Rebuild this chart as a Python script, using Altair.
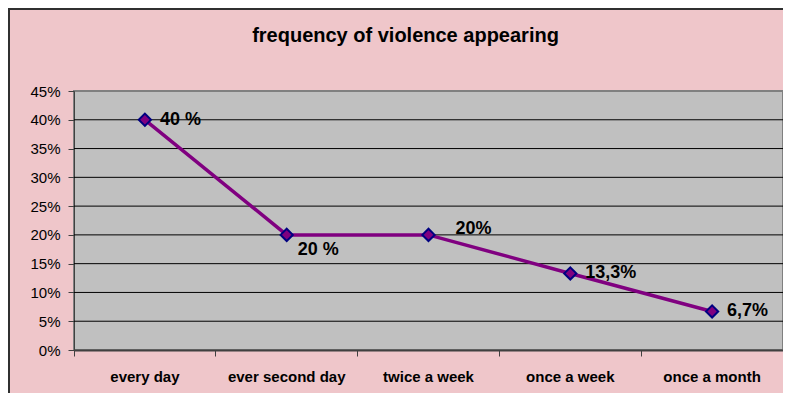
import altair as alt
import pandas as pd

categories = ["every day", "ever second day", "twice a week", "once a week", "once a month"]
values = [0.40, 0.20, 0.20, 0.133, 0.067]
labels = ["40 %", "20 %", "20%", "13,3%", "6,7%"]
y_ticks = [0.0, 0.05, 0.10, 0.15, 0.20, 0.25, 0.30, 0.35, 0.40, 0.45]
grid_values = [0.05, 0.10, 0.15, 0.20, 0.25, 0.30, 0.35, 0.40]
title_text = "frequency of violence appearing"

df = pd.DataFrame({"cat": categories, "val": values, "lab": labels})
grid_df = pd.DataFrame({"val": grid_values})

FONT = "Liberation Sans"

x_enc = alt.X(
    "cat:N",
    sort=categories,
    scale=alt.Scale(type="band", paddingInner=0, paddingOuter=0),
    axis=alt.Axis(
        title=None, labelAngle=0, bandPosition=0,
        tickSize=6, tickColor="#404040", tickWidth=1,
        domainColor="#404040", domainWidth=2,
        labelFont=FONT, labelFontWeight="bold", labelFontSize=15,
        labelColor="black", labelPadding=13, grid=False,
    ),
)
y_scale = alt.Scale(domain=[0, 0.45])
y_enc = alt.Y(
    "val:Q",
    scale=y_scale,
    axis=alt.Axis(
        values=y_ticks, format=".0%", title=None, grid=False, labelOverlap=False,
        tickSize=6, tickColor="#404040", domainColor="#404040", domainWidth=1,
        labelFont=FONT, labelFontSize=15, labelColor="black", labelPadding=8,
    ),
)

base = alt.Chart(df)

grid = alt.Chart(grid_df).mark_rule(color="black", strokeWidth=1).encode(y=y_enc)

line = base.mark_line(color="#800080", strokeWidth=3.5).encode(x=x_enc, y=y_enc)
pts = base.mark_point(
    shape="diamond", filled=True, size=150, fill="#800080",
    stroke="#000080", strokeWidth=2, opacity=1,
).encode(x=x_enc, y=y_enc)

def label_layer(cats, dx, dy):
    return base.transform_filter(
        alt.FieldOneOfPredicate(field="cat", oneOf=cats)
    ).mark_text(
        align="left", baseline="middle", dx=dx, dy=dy,
        font=FONT, fontSize=18, fontWeight="bold", color="black",
    ).encode(x=x_enc, y=y_enc, text="lab:N")

t1 = label_layer([categories[0], categories[3], categories[4]], 15, 0)
t2 = label_layer([categories[1]], 11, 15)
t3 = label_layer([categories[2]], 27, -6)

border_left = alt.Chart(df).mark_rule(color="#303030", strokeWidth=2).encode(
    x=alt.value(-65), y=alt.value(-82), y2=alt.value(310)
)
border_top = alt.Chart(df).mark_rule(color="#303030", strokeWidth=2).encode(
    x=alt.value(-66), x2=alt.value(709), y=alt.value(-82)
)

chart = alt.layer(border_left, border_top, grid, line, pts, t1, t2, t3).properties(
    width=709,
    height=259,
    autosize=alt.AutoSizeParams(type="none"),
    padding={"left": 66, "top": 83, "right": 0, "bottom": 43},
    title=alt.TitleParams(
        title_text, font=FONT, fontSize=20, fontWeight="bold", color="black",
        anchor="middle", dx=-23, offset=-38,
    ),
).configure(
    background="#efc6ca",
).configure_view(
    fill="#c0c0c0", stroke="#808080", strokeWidth=2,
)

chart.save("out.html", embed_options={"renderer": "svg", "actions": False})
